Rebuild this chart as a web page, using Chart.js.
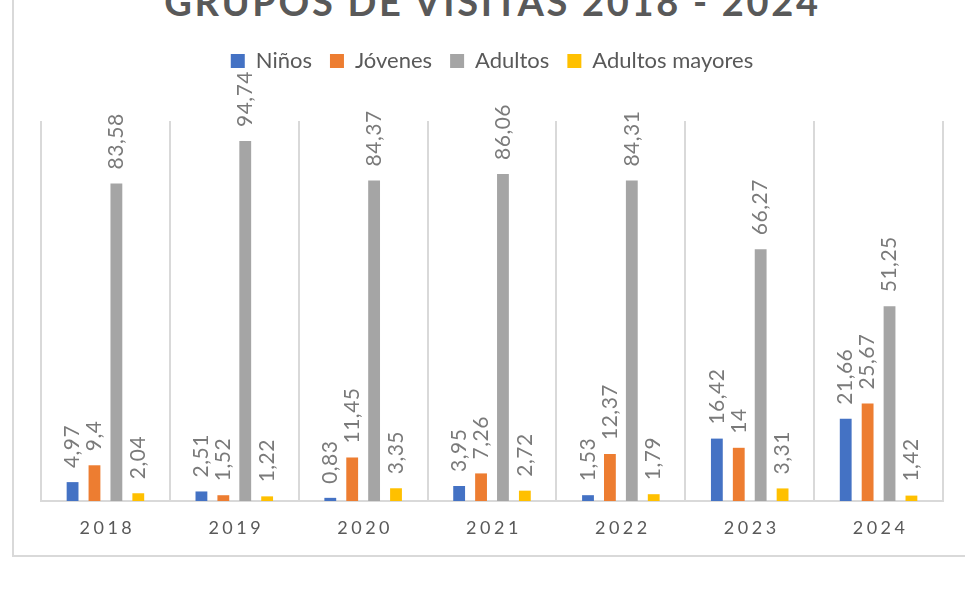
<!DOCTYPE html>
<html>
<head>
<meta charset="utf-8">
<script src="https://cdn.jsdelivr.net/npm/chart.js@4"></script>
<style>
  html, body { margin: 0; padding: 0; background: #fff; }
  #wrap { position: relative; width: 965px; height: 594px; overflow: hidden; }
  #frame { position: absolute; left: 12px; top: -2px; width: 960px; height: 559px;
           border-left: 2px solid #d9d9d9; border-bottom: 2px solid #d9d9d9; box-sizing: border-box; }
  #title { position: absolute; left: 10px; width: 965px; top: -18px; text-align: center;
           font: bold 38px Lato, sans-serif; letter-spacing: 2.7px; color: #595959; line-height: 38px; }
  canvas { position: absolute; left: 0; top: 0; }
</style>
</head>
<body>
<div id="wrap">
  <div id="frame"></div>
  <div id="title">GRUPOS DE VISITAS 2018 - 2024</div>
  <canvas id="chart" width="965" height="594"></canvas>
</div>
<script>
// years and series values
const years = ["2018", "2019", "2020", "2021", "2022", "2023", "2024"];
const ninos = [4.97, 2.51, 0.83, 3.95, 1.53, 16.42, 21.66];
const jovenes = [9.4, 1.52, 11.45, 7.26, 12.37, 14, 25.67];
const adultos = [83.58, 94.74, 84.37, 86.06, 84.31, 66.27, 51.25];
const mayores = [2.04, 1.22, 3.35, 2.72, 1.79, 3.31, 1.42];

const seriesColors = ["#4472C4", "#ED7D31", "#A5A5A5", "#FFC000"];

// rotated value labels above each bar (no datalabels plugin available)
const barLabels = {
    id: "barLabels",
    afterDatasetsDraw(chart) {
        const ctx = chart.ctx;
        ctx.save();
        ctx.font = "21px Lato, sans-serif";
        ctx.fillStyle = "#7a7a7a";
        ctx.letterSpacing = "0.5px";
        ctx.textAlign = "left";
        ctx.textBaseline = "middle";
        chart.data.datasets.forEach((ds, i) => {
            chart.getDatasetMeta(i).data.forEach((bar, j) => {
                const txt = String(ds.data[j]).replace(".", ",");
                ctx.save();
                ctx.translate(bar.x, bar.y - 14);
                ctx.rotate(-Math.PI / 2);
                ctx.fillText(txt, 0, 0);
                ctx.restore();
            });
        });
        ctx.restore();
    }
};

// year labels with wide letter spacing
const yearLabels = {
    id: "yearLabels",
    afterDraw(chart) {
        const ctx = chart.ctx;
        const xScale = chart.scales.x;
        ctx.save();
        ctx.font = "18px Lato, sans-serif";
        ctx.fillStyle = "#595959";
        ctx.letterSpacing = "3.5px";
        ctx.textAlign = "center";
        ctx.textBaseline = "middle";
        years.forEach((y, i) => {
            ctx.fillText(y, xScale.getPixelForValue(i) + 2, chart.chartArea.bottom + 27);
        });
        ctx.restore();
    }
};

// give the legend some extra room below it
const legendSpace = {
    id: "legendSpace",
    beforeInit(chart) {
        const origFit = chart.legend.fit;
        chart.legend.fit = function () {
            origFit.call(this);
            this.height += 39;
        };
    }
};

new Chart(document.getElementById("chart"), {
    type: "bar",
    data: {
        labels: years,
        datasets: [
            { label: "Niños", data: ninos, backgroundColor: seriesColors[0] },
            { label: "Jóvenes", data: jovenes, backgroundColor: seriesColors[1] },
            { label: "Adultos", data: adultos, backgroundColor: seriesColors[2] },
            { label: "Adultos mayores", data: mayores, backgroundColor: seriesColors[3] }
        ]
    },
    options: {
        responsive: false,
        animation: false,
        categoryPercentage: 0.68,
        barPercentage: 0.54,
        layout: { padding: { top: 32, left: 41, right: 22, bottom: 93 } },
        scales: {
            x: {
                grid: { display: true, offset: true, color: "#d9d9d9", lineWidth: 2, drawTicks: false },
                border: { display: true, color: "#d9d9d9", width: 2 },
                ticks: { display: false }
            },
            y: {
                display: false,
                min: 0,
                max: 100
            }
        },
        plugins: {
            title: { display: false },
            tooltip: { enabled: false },
            legend: {
                position: "top",
                labels: {
                    boxWidth: 14,
                    boxHeight: 14,
                    padding: 18,
                    color: "#595959",
                    font: { family: "Lato, sans-serif", size: 22 }
                }
            }
        }
    },
    plugins: [barLabels, yearLabels, legendSpace]
});
</script>
</body>
</html>
